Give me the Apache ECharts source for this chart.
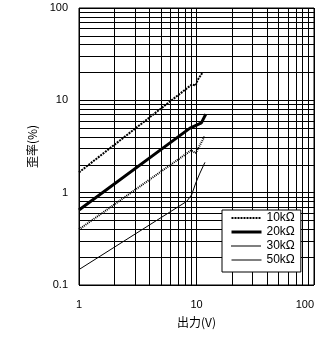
<!DOCTYPE html>
<html><head><meta charset="utf-8">
<script src="https://cdn.jsdelivr.net/npm/echarts@6/dist/echarts.min.js"></script>
<style>html,body{margin:0;padding:0;background:#fff}#c{width:323px;height:357px}</style>
</head><body><div id="c"></div>
<script>
const seriesNames = ['10kΩ', '20kΩ', '30kΩ', '50kΩ'];
const x10 = [1, 9.1, 9.85, 10.2, 10.8, 11.2];
const y10 = [1.66, 14.8, 14.5, 16.5, 18.5, 19.8];
const x20 = [1, 8.8, 9.4, 11.0, 12.0];
const y20 = [0.65, 5.0, 5.2, 5.7, 7.1];
const x30 = [1, 8.98, 9.85, 11.8];
const y30 = [0.40, 2.87, 2.69, 4.14];
const x50 = [1, 8.26, 9.1, 9.85, 10.7, 11.8];
const y50 = [0.147, 0.805, 0.95, 1.27, 1.63, 2.13];
const xMinorGrid = [2,3,4,5,6,7,8,9,20,30,40,50,60,70,80,90];
const yMinorGrid = [0.2,0.3,0.4,0.5,0.6,0.7,0.8,0.9,2,3,4,5,6,7,8,9,20,30,40,50,60,70,80,90];
const xTickLabels = {1:'1', 10:'10', 100:'100'};
const yTickLabels = {0.1:'0.1', 1:'1', 10:'10', 100:'100'};

const zip = (xs, ys) => xs.map((x, i) => [x, ys[i]]);
const numFont = 'Liberation Sans';
const cjkFont = '"Noto Sans CJK JP"';
const fmt = (map) => (v) => { for (const k in map) { if (Math.abs(+k - v) < 1e-6 * Math.max(1, v)) return map[k]; } return ''; };

const lineStyles = [
  {color: '#000', width: 2, type: [2, 1]},
  {color: '#000', width: 3, type: 'solid'},
  {color: '#000', width: 2, type: [1, 1]},
  {color: '#000', width: 1, type: 'solid'}
];
const xs = [x10, x20, x30, x50];
const ys = [y10, y20, y30, y50];

const chart = echarts.init(document.getElementById('c'), null, {renderer: 'canvas'});
chart.setOption({
  animation: false,
  backgroundColor: '#fff',
  grid: {left: 79, right: 9, top: 8, bottom: 72, show: true, borderColor: '#000', borderWidth: 1, backgroundColor: 'transparent'},
  xAxis: {
    type: 'log', logBase: 10, min: 1, max: 100,
    name: '出力(V)', nameLocation: 'middle', nameGap: 31,
    nameTextStyle: {fontFamily: cjkFont, fontSize: 12, color: '#000'},
    axisLine: {show: false}, axisTick: {show: false},
    axisLabel: {margin: 14, fontFamily: numFont, fontSize: 11, color: '#000', formatter: fmt(xTickLabels), alignMaxLabel: 'right'},
    splitLine: {show: true, lineStyle: {color: '#000', width: 1}}
  },
  yAxis: {
    type: 'log', logBase: 10, min: 0.1, max: 100,
    name: '歪率(%)', nameLocation: 'middle', nameGap: 34,
    nameTextStyle: {fontFamily: cjkFont, fontSize: 12, color: '#000'},
    axisLine: {show: false}, axisTick: {show: false},
    axisLabel: {margin: 11, fontFamily: numFont, fontSize: 11, color: '#000', formatter: fmt(yTickLabels)},
    splitLine: {show: true, lineStyle: {color: '#000', width: 1}}
  },
  legend: {
    data: seriesNames.map((n, i) => ({name: n, lineStyle: lineStyles[i]})),
    orient: 'vertical', left: 222, top: 210,
    backgroundColor: '#fff', borderColor: '#000', borderWidth: 1, borderRadius: 0,
    padding: [2, 6, 6, 8], itemWidth: 30, itemHeight: 14, itemGap: 2,
    itemStyle: {opacity: 0, borderWidth: 0},
    textStyle: {fontFamily: numFont, fontSize: 12, color: '#000'}, z: 10
  },
  series: [
    {type: 'line', name: '__grid', data: [], silent: true, z: 1,
     markLine: {silent: true, symbol: ['none', 'none'], label: {show: false}, animation: false,
       lineStyle: {color: '#000', width: 1, type: 'solid'}, emphasis: {disabled: true},
       data: [...yMinorGrid.map(v => ({yAxis: v})), ...xMinorGrid.map(v => ({xAxis: v}))]}},
    ...seriesNames.map((n, i) => ({
      type: 'line', name: n, data: zip(xs[i], ys[i]), showSymbol: false, symbol: 'none', z: 3,
      lineStyle: lineStyles[i], itemStyle: {color: '#000'}
    }))
  ]
});
</script></body></html>
